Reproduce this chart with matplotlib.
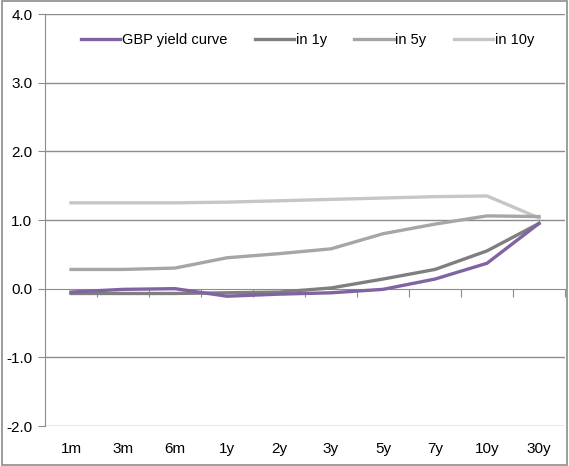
import matplotlib.pyplot as plt
import matplotlib.transforms as mtransforms
import numpy as np

plt.rcParams['font.family'] = ['Liberation Sans Narrow', 'Liberation Sans', 'DejaVu Sans']

# Tenors and yield curves (%)
tenors = ['1m', '3m', '6m', '1y', '2y', '3y', '5y', '7y', '10y', '30y']
gbp_curve = [-0.05, -0.01, 0.00, -0.11, -0.08, -0.06, -0.01, 0.14, 0.37, 0.95]
in_1y = [-0.07, -0.07, -0.07, -0.06, -0.05, 0.01, 0.14, 0.28, 0.55, 0.95]
in_5y = [0.28, 0.28, 0.30, 0.45, 0.51, 0.58, 0.80, 0.94, 1.06, 1.05]
in_10y = [1.25, 1.25, 1.25, 1.26, 1.28, 1.30, 1.32, 1.34, 1.35, 1.03]

grid_col = '#8c8c8c'

fig = plt.figure(figsize=(5.69, 4.66), dpi=100)
ax = fig.add_axes([45 / 569, 40 / 466, 520 / 569, 412 / 466])

x = np.arange(len(tenors))
ax.plot(x, gbp_curve, color='#8064a2', lw=2.4, label='GBP yield curve', zorder=5)
ax.plot(x, in_1y, color='#7f7f7f', lw=2.4, label='in 1y', zorder=4)
ax.plot(x, in_5y, color='#a6a6a6', lw=2.4, label='in 5y', zorder=3)
ax.plot(x, in_10y, color='#c6c6c6', lw=2.4, label='in 10y', zorder=2)

ax.set_xlim(-0.5, len(tenors) - 0.5)
ax.set_ylim(-2, 4)
ax.set_yticks(np.arange(-2, 4.1, 1))
ax.set_yticklabels([f'{v:.1f}' for v in np.arange(-2, 4.1, 1)], fontsize=11)
for v in [-2, -1, 1, 2, 3, 4]:
    ax.axhline(v, color=grid_col, lw=1, zorder=0)

# category axis sits on zero, labels at the bottom
ax.spines['bottom'].set_position(('data', 0))
ax.spines['bottom'].set_color(grid_col)
ax.spines['left'].set_color(grid_col)
ax.spines['top'].set_visible(False)
ax.spines['right'].set_visible(False)
ax.set_xticks(np.arange(-0.5, len(tenors), 1))
ax.set_xticklabels([])
ax.tick_params(axis='x', length=6, color=grid_col, direction='out')
ax.tick_params(axis='y', length=5, color=grid_col, pad=4)

trans = mtransforms.blended_transform_factory(ax.transData, ax.transAxes)
for i, t in enumerate(tenors):
    ax.text(i, -0.055, t, transform=trans, ha='center', va='center', fontsize=11)

ax.legend(loc='upper center', bbox_to_anchor=(0.505, 0.985), ncol=4, frameon=False,
          fontsize=10.5, handlelength=2.7, handletextpad=0.1, columnspacing=1.9)

# frame round the whole chart
fig.patches.append(plt.Rectangle((0.003, 0.002), 0.994, 0.996, transform=fig.transFigure,
                                 fill=False, edgecolor='#8c8c8c', lw=1.2))

fig.savefig('out.png', dpi=100)
